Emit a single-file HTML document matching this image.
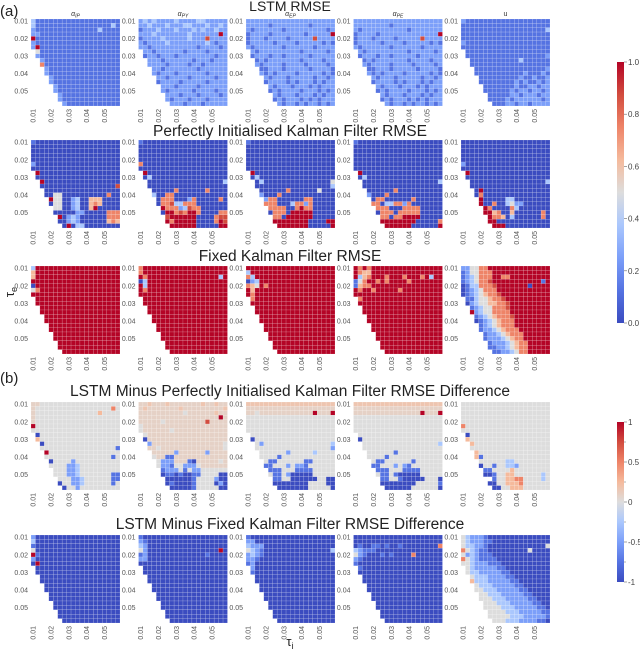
<!DOCTYPE html>
<html><head><meta charset="utf-8"><style>
html,body{margin:0;padding:0;background:#fff;}
svg{display:block;font-family:"Liberation Sans",sans-serif;}
</style></head><body>
<svg id="fig" width="640" height="652" viewBox="0 0 640 652" xmlns="http://www.w3.org/2000/svg">
<defs>
<linearGradient id="cw" x1="0" y1="1" x2="0" y2="0">
<stop offset="0" stop-color="rgb(59,76,192)"/><stop offset="0.125" stop-color="rgb(85,115,226)"/><stop offset="0.25" stop-color="rgb(124,159,249)"/><stop offset="0.375" stop-color="rgb(170,199,253)"/><stop offset="0.5" stop-color="rgb(221,221,221)"/><stop offset="0.625" stop-color="rgb(245,186,156)"/><stop offset="0.75" stop-color="rgb(238,132,104)"/><stop offset="0.875" stop-color="rgb(210,76,62)"/><stop offset="1" stop-color="rgb(180,4,38)"/>
</linearGradient>
</defs>
<text x="0" y="16" font-size="15" fill="#222">(a)</text>
<text x="0" y="383" font-size="15" fill="#222">(b)</text>
<text x="290" y="11" font-size="14" fill="#222" text-anchor="middle">LSTM RMSE</text>
<text x="290" y="136" font-size="15.5" fill="#222" text-anchor="middle">Perfectly Initialised Kalman Filter RMSE</text>
<text x="290" y="261" font-size="15.5" fill="#222" text-anchor="middle">Fixed Kalman Filter RMSE</text>
<text x="290" y="396" font-size="15.5" fill="#222" text-anchor="middle">LSTM Minus Perfectly Initialised Kalman Filter RMSE Difference</text>
<text x="290" y="529" font-size="15.5" fill="#222" text-anchor="middle">LSTM Minus Fixed Kalman Filter RMSE Difference</text>
<text transform="translate(14,292) rotate(-90)" font-size="13" fill="#222" text-anchor="middle">τ<tspan font-size="9" dy="3">e</tspan></text>
<text x="290" y="646" font-size="13" fill="#222" text-anchor="middle">τ<tspan font-size="9" dy="3">i</tspan></text>
<g font-size="7" fill="#333" font-style="italic" text-anchor="middle">
<text x="75.5" y="16">α<tspan font-size="5" dy="1.5">IP</tspan></text>
<text x="183" y="16">α<tspan font-size="5" dy="1.5">PY</tspan></text>
<text x="290.5" y="16">α<tspan font-size="5" dy="1.5">EP</tspan></text>
<text x="398" y="16">α<tspan font-size="5" dy="1.5">PE</tspan></text>
<text x="505.5" y="16" font-style="normal">u</text>
</g>
<g id="cells"></g>
<g id="ticks" font-size="7" fill="#555"></g>
<g id="cbars" font-size="8" fill="#444"></g>
</svg>
<script>
// tick labels
const tauTicks = ["0.01","0.02","0.03","0.04","0.05"];
const tauTickIdx = [0,4,8,12,16];
const rmseTicks = [0,0.2,0.4,0.6,0.8,1.0];
const diffTicks = [-1,-0.5,0,0.5,1];
const diffMinor = [-0.75,-0.25,0.25,0.75];

// data: digit d -> level (0..8); 'a' = 4.35, 'b' = 4.7 (faint warm); RMSE value = level/8, difference value = (level-4)/4; '.' = no data
const lstmIP = ["31111111111111111111","31111111111111111131","21111111111111131111","22111111111111111111","81111111111111111111","21111111111111111111","28111111111111111111",".4111111111111111111",".2111111111111111111","..211111111111111111","..611111111111111111","...21111111111111111","...21111111111111111","....2111111111111111","....2111111111111111",".....211111111111111",".....211111111111111","......21111111111111","......21111111111111",".......2111111111111"];
const lstmPY = ["23232222322223322222","22322232223322232232","12223222322232322322","22232222222322222282","12222322222322272222","21222232222222232122","22122222222221222212",".2212222221222212222",".1221222122222222122","..222122222212221222","..222212222122122222","...22122222221222222","...21222122222212222","....2212222122222122","....1222212222212222",".....222122221222222",".....212222212222122","......22212221222212","......21222122212222",".......2221222122222"];
const lstmEP = ["22222222222222222222","22222122222222122222","21222222122222222212","12222122222221222228","12221222212222272222","12222212222122222121","21222222122222212222",".2122222222212222212",".1222122122222122222","..121222222212222122","..212222122221222212","...11222122222122221","...21212222122222121","....2122212222212212","....1222212122212122",".....212221222121222",".....121222212221212","......21222122212122","......12122212121222",".......2122121221212"];
const lstmPE = ["22222222222222222222","22222222122222222222","21222222222212222222","12222122222222222228","12221222212222272222","12222212222122222121","21222222122222212222",".2122222222212222212",".1222122122222122222","..121222222212222122","..212222122221222212","...11222122222122221","...21212222122222121","....2122212222212212","....1222212122212122",".....212221222121222",".....121222212221212","......21222122212122","......12122212121222",".......2122121221212"];
const lstmU = ["21111111111111111111","11111111111111111111","11111111111111111113","11111111111111111111","11111111111111111111","21111111111111111111","11111111111111111111",".1111111111111111111",".1111111111111111112","..111111111113111111","..111111111111111111","...11111111111111112","...11111111111211121","....1111111112112112","....1111111121211212",".....111111121122122",".....111111212212212","......11111221222122","......11112122222212",".......1112212212222"];
const pikfIP = ["10000000000000000000","00000000000000000000","00000000000000000000","00000000000000000000","00000000000000000000","20000000000000000000","00000000000000000000",".8000000000000000000",".0000000000000000000","..800000000000000000","..000000000000000007","...00000000000000000","...00440000000000600","....8440023005550000","....0440023005650000",".....440023005800000",".....000002200000666","......80232000000666","......00232000000565",".......0803300000000"];
const pikfPY = ["10000000000000000000","00000000000000000000","00000000000000000000","00000000000000000000","00000000000000000000","60000000000000000000","00000000000000000000",".8000000000000000000",".0300000000000000000","..000000000000000003","..000000000000000000","...00000600000060000","...30066000000000000","....0666000260000060","....0667336660000000",".....866623766000000",".....088676886000066","......78888880000677","......86888880000687",".......8888880000088"];
const pikfEP = ["10000000000000000000","00000000000000000000","00000000000000000000","00000000000000000000","00000000000000000000","00000000000000000000","00000000000000000000",".8000000000000000000",".0300000000000000000","..030000000000000004","..000000000000000003","...00000060000004000","...20006000000000000","....2660000006600000","....6660003662600000",".....666600686600000",".....066608888800000","......66088888800000","......88888888000088",".......8888888000008"];
const pikfPE = ["10000000000000000000","00000000000000000000","00000000000000000000","00000000000000000000","00000000000000000000","00000000000000000000","00000000000000000000",".8000000000000000000",".0300000000000000000","..000000000000000003","..000000000000000000","...00000060000000000","...20006000000000000","....0660000006000000","....6603366260000000",".....666000666600000",".....066606666600000","......66066888800000","......88888888000006",".......8888880000008"];
const pikfU = ["00000000000000000000","00000000000000000000","00000000000000000000","00000000000000000000","00000000000000000000","20000000000000000000","00000000000000000000",".8000000000000000000",".0000000000000000000","..000000000000000003","..000000000000000000","...08000000000000000","...06000000000000000","....8000003300000000","....8006003422000000",".....860000630000000",".....885600500000060","......86650300000060","......88000000000000",".......8880000000000"];
const fixIP = ["38888888888888888888","58888888888888888888","58888888888888888888","88888888888888888888","08888888888888888888","46888888888888888888","88888888888888888888",".8888888888888888888",".8888888888888888888","..888888888888888888","..888888888888888888","...88888888888888888","...88888888888888888","....8888888888888888","....8888888888888888",".....888888888888888",".....888888888888888","......88888888888888","......88888888888888",".......8888888888888"];
const fixPY = ["68888888888888888888","68888888888888888888","86888888888888888838","03888888888888888888","83888888888888888888","86888888888888888888","88888888888888888888",".8888888888888888888",".8888888888888888888","..888888888888888888","..888888888888888888","...88888888888888888","...88888888888888888","....8888888888888888","....8888888888888888",".....888888888888888",".....888888888888888","......88888888888888","......88888888888888",".......8888888888888"];
const fixEP = ["88888888888888888888","38888888888888888888","63888888888888888888","02388888888888888888","65486888888888888888","85888888888888888888","86888888888888888888",".6888888888888888888",".8888888888888888888","..888888888888888888","..888888888888888888","...88888888888888888","...88888888888888888","....8888888888888888","....8888888888888888",".....888888888888888",".....888888888888888","......88888888888888","......88888888888888",".......8888888888888"];
const fixPE = ["86868888888888888888","86558888888888888888","83568886888688868388","14688686888868888888","15668888888888888888","86886888886888888888","88888888888888888888",".6888888888888888888",".8888888888888888888","..888888888888888888","..888888888888888888","...88888888888888888","...88888888888888888","....8888888888888888","....8888888888888888",".....888888888888888",".....888888888888888","......88888888888888","......88888888888888",".......8888888888888"];
const fixU = ["22446688888888888888","12446668888888888888","12346668866888888888","12346678888888888818","01336667888888808888","01234666888888888888","01234566788888888888",".1134456678888888888",".0234455667888888888","..123446667888888888","..823446666888888888","...12345666788888888","...01234566688888888","....1234566688888888","....1223456668888888",".....122345666888888",".....122234566888888","......12223456688888","......11223456688888",".......1122346688888"];
const d1IP = ["aa444444444444444444","a4444444444444444464","a4444444444444454444","a4444444444444444444","a4444444444444444444","84444444444444444444","44444444444444444444",".0444444444444444444",".5444444444444444444","..044444444444444444","..444444444444444441","...84444444444444444","...44444444444444414","....0444424444444444","....4444223444444444",".....444223444444444",".....444223444444411","......44422344444411","......04422344444414",".......0442444444444"];
const d1PY = ["aabaaabaaaaaaabaabaa","abaaaaaaabaaaaaaaaab","aaaaaaaaaa4aaaaaabaa","aaaaaaaaaaaaaaaaaa8a","aaaaa4aaaaaaaaa7aaaa","4aaaaaaaaaaaaaaaaaaa","4aaaaaa4aaaaaaaaaaaa",".4aaaaaaaaaaaaaaaaaa",".0aaaaaaaaaaaaaaaaaa","..2aaaaaaaaaaaaaaaa4","..aa4aaaaaaaaaaaaaa4","...aaaaa2aaaaaa2aaaa","...4aa11aaaaaaaaaaaa","....4222aaa10aaaaa4a","....4221442224aaaaaa",".....122241422444444",".....011010011444400","......00000014444200","......01000014444020",".......0000014444400"];
const d1EP = ["bbbbbbbbbbbbbbbbbbbb","aaaaaaaaaaaaaaaaaaaa","aa4aaaaaaaaaaaa8aaa8","44444444444444444444","44444444444444444444","44444444444444444444","44444444444444444444",".4444444444444444444",".0444444444444444444","..424444444444444443","..444444444444444442","...44444424444434444","...44441444444444444","....4114444441144444","....1144424221444444",".....111444111144444",".....411420000044444","......11440000004400","......00000000444400",".......0000000444440"];
const d1PE = ["bbbbbbbbbbbbbbbbbbbb","aaaaaaaaaaaaaaaaaaaa","aaaaaaaaaaaaaaa8aaa8","44444444444444444444","44444444444444444444","44444444444444444444","44444444444444444444",".4444444444444444444",".0444444444444444444","..444444444444444443","..444444444444444444","...44444414444444444","...44441444444444444","....4114444441444444","....1144424214444444",".....111444111144444",".....411410000044444","......11441000004440","......00000000444441",".......0000004444440"];
const d1U = ["44444444444444444444","44444444444444444444","44444444444444444444","44444444444444444444","44444444444444444444","64444444444444444444","44444444444444444444",".0444444444444444444",".5444444444444444444","..544444444444444444","..444444444444444444","...54444444444444444","...51444444444444444","....4444443344444444","....0441443324444444",".....114444544444444",".....001445544444434",".......1445566444434","......00445556444444",".......0044555444444"];
const d2IP = ["20000000000000000000","30000000000000000000","10000000000000000000","40000000000000000000","81000000000000000000","20000000000000000000","08000000000000000000",".0000000000000000000",".0000000000000000000","..000000000000000000","..000000000000000000","...00000000000000000","...00000000000000000","....0000000000000000","....0000000000000000",".....000000000000000",".....000000000000000","......00000000000000","......00000000000000",".......0000000000000"];
const d2PY = ["10000000000000000000","21000000000000000000","32000000000000000000","42000000000000000080","12000000000000010000","22000000000000000000","00000000000000000000",".0000000000000000000",".0000000000000000000","..000000000000000000","..000000000000000000","...00000000000000000","...00000000000000000","....0000000000000000","....0000000000000000",".....000000000000000",".....000000000000000","......00000000000000","......00000000000000",".......0000000000000"];
const d2EP = ["10000000000000000000","22000000000000000000","32220000000000000000","43210000000000000003","23210000000000000000","22100000000000000000","12000000000000000000",".2000000000000000000",".1000000000000000000","..000000000000000000","..000000000000000000","...00000000000000000","...00000000000000000","....0000000000000000","....0000000000000000",".....000000000000000",".....000000000000000","......00000000000000","......00000000000000",".......0000000000000"];
const d2PE = ["00000000000000000000","00000000000000000000","01001101001000000006","32111000000000000000","42100010100006000000","21000000000000000000","10000000000000000000",".1000000000000000000",".0000000000000000000","..000000000000000000","..000000000000000000","...00000000000000000","...00000000000000000","....0000000000000000","....0000000000000000",".....000000000000000",".....000000000000000","......00000000000000","......00000000000000",".......0000000000000"];
const d2U = ["43222100000000000000","43222110000000000000","43322100000000000004","64321100000000040000","42321110000000000000","64321111000000000000","44322211100000000000",".4322222110000000000",".4332222211000000000","..433322221100000000","..533322222110000000","...43332222211000000","...44333222221100000","....4433322222110000","....4443332222211000",".....444333222221100",".....444433322222110","......44443332222211","......44444333222221",".......4443332222110"];

const panelRows = [
  [lstmIP,lstmPY,lstmEP,lstmPE,lstmU],
  [pikfIP,pikfPY,pikfEP,pikfPE,pikfU],
  [fixIP,fixPY,fixEP,fixPE,fixU],
  [d1IP,d1PY,d1EP,d1PE,d1U],
  [d2IP,d2PY,d2EP,d2PE,d2U]
];
const rowNames = ["lstm","pikf","fixed-kf","lstm-minus-pikf","lstm-minus-fixed"];
const colNames = ["alpha-ip","alpha-py","alpha-ep","alpha-pe","u"];
const levelOf = {a:4.35, b:4.7};

const NS = "http://www.w3.org/2000/svg";
const stops = [[59,76,192],[85,115,226],[124,159,249],[170,199,253],[221,221,221],[245,186,156],[238,132,104],[210,76,62],[180,4,38]];
function cw(t){
  t = Math.max(0,Math.min(1,t));
  const p = t*8, i = Math.min(7,Math.floor(p)), f = p-i;
  const a = stops[i], b = stops[i+1];
  return "rgb("+a.map((v,k)=>Math.round(v+(b[k]-v)*f)).join(",")+")";
}
const panelX = [31,138.5,246,353.5,461];
const rowTop = [19,140,266,402,535];
const rowH = [87,88,88,88,88];
const PW = 89, N = 20;
const xScale = (px,c)=>px + c*PW/N;
const yScale = (py,ph,r)=>py + r*ph/N;

const gCells = document.getElementById('cells');
const gT = document.getElementById('ticks');
panelRows.forEach((row,ri)=>{
  row.forEach((data,ci)=>{
    const g = document.createElementNS(NS,'g');
    
    
    const px = panelX[ci], py = rowTop[ri], ph = rowH[ri];
    data.forEach((s,r)=>{
      for(let c=0;c<N;c++){
        const ch = c<s.length ? s[c] : s[s.length-1];
        if(ch==='.') continue;
        const lv = (ch in levelOf) ? levelOf[ch] : +ch;
        const rc = document.createElementNS(NS,'rect');
        rc.setAttribute('x', xScale(px,c).toFixed(2));
        rc.setAttribute('y', yScale(py,ph,r).toFixed(2));
        rc.setAttribute('width', (PW/N).toFixed(2));
        rc.setAttribute('height', (ph/N).toFixed(2));
        rc.setAttribute('fill', cw(lv/8));
        rc.setAttribute('stroke', 'rgba(255,255,255,0.35)');
        rc.setAttribute('stroke-width', '0.4');
        
        
        g.appendChild(rc);
      }
    });
    gCells.appendChild(g);
    tauTicks.forEach((lab,k)=>{
      const idx = tauTickIdx[k];
      const ty = document.createElementNS(NS,'text');
      ty.setAttribute('x', px-3);
      ty.setAttribute('y', yScale(py,ph,idx+0.5)+2.5);
      ty.setAttribute('text-anchor','end');
      ty.textContent = lab;
      
      
      gT.appendChild(ty);
      const tx = document.createElementNS(NS,'text');
      const cx = xScale(px,idx+0.5)+2.5, cy = py+ph+3;
      tx.setAttribute('transform','translate('+cx+','+cy+') rotate(-90)');
      tx.setAttribute('text-anchor','end');
      tx.textContent = lab;
      
      
      gT.appendChild(tx);
    });
  });
});

const gC = document.getElementById('cbars');
function colorbar(y0,y1,ticks,minor,vmin,vmax,fmt,name){
  const r = document.createElementNS(NS,'rect');
  r.setAttribute('x',617); r.setAttribute('y',y0);
  r.setAttribute('width',7); r.setAttribute('height',y1-y0);
  r.setAttribute('fill','url(#cw)');
  
  
  gC.appendChild(r);
  const ys = v=> y1 - (v-vmin)/(vmax-vmin)*(y1-y0);
  ticks.forEach(v=>{
    const l = document.createElementNS(NS,'line');
    l.setAttribute('x1',624); l.setAttribute('x2',627);
    l.setAttribute('y1',ys(v)); l.setAttribute('y2',ys(v));
    l.setAttribute('stroke','#666'); l.setAttribute('stroke-width','0.6');
    
    
    gC.appendChild(l);
    const t = document.createElementNS(NS,'text');
    t.setAttribute('x',628); t.setAttribute('y',ys(v)+3);
    t.textContent = fmt(v);
    
    
    gC.appendChild(t);
  });
  minor.forEach(v=>{
    const l = document.createElementNS(NS,'line');
    l.setAttribute('x1',624); l.setAttribute('x2',626);
    l.setAttribute('y1',ys(v)); l.setAttribute('y2',ys(v));
    l.setAttribute('stroke','#666'); l.setAttribute('stroke-width','0.5');
    
    
    gC.appendChild(l);
  });
}
colorbar(62,323,rmseTicks,[],0,1,v=>v.toFixed(1),'colorbar-rmse');
colorbar(422,582,diffTicks,diffMinor,-1,1,v=>String(v),'colorbar-difference');
</script>
</body></html>
